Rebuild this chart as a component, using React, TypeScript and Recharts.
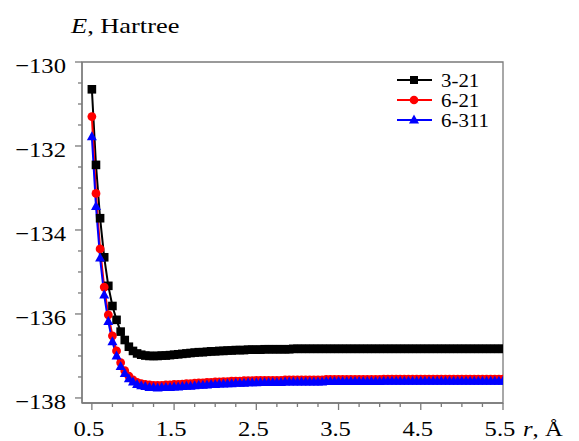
import React from 'react';
import { LineChart, Line, XAxis, YAxis, ReferenceArea, Legend, Label } from 'recharts';

const rValues = [
  0.5, 0.55, 0.6, 0.65, 0.7, 0.75, 0.8, 0.85, 0.9, 0.95,
  1.0, 1.05, 1.1, 1.15, 1.2, 1.25, 1.3, 1.35, 1.4, 1.45,
  1.5, 1.55, 1.6, 1.65, 1.7, 1.75, 1.8, 1.85, 1.9, 1.95,
  2.0, 2.05, 2.1, 2.15, 2.2, 2.25, 2.3, 2.35, 2.4, 2.45,
  2.5, 2.55, 2.6, 2.65, 2.7, 2.75, 2.8, 2.85, 2.9, 2.95,
  3.0, 3.05, 3.1, 3.15, 3.2, 3.25, 3.3, 3.35, 3.4, 3.45,
  3.5, 3.55, 3.6, 3.65, 3.7, 3.75, 3.8, 3.85, 3.9, 3.95,
  4.0, 4.05, 4.1, 4.15, 4.2, 4.25, 4.3, 4.35, 4.4, 4.45,
  4.5, 4.55, 4.6, 4.65, 4.7, 4.75, 4.8, 4.85, 4.9, 4.95,
  5.0, 5.05, 5.1, 5.15, 5.2, 5.25, 5.3, 5.35, 5.4, 5.45,
  5.5,
];

const basis321 = [
  -130.65, -132.45, -133.72, -134.65, -135.33, -135.81, -136.14, -136.42, -136.62, -136.78,
  -136.88, -136.94, -136.97, -136.99, -137.0, -137.0, -137.0, -136.99, -136.99, -136.98,
  -136.97, -136.96, -136.95, -136.94, -136.93, -136.92, -136.91, -136.91, -136.9, -136.89,
  -136.89, -136.88, -136.88, -136.87, -136.87, -136.86, -136.86, -136.86, -136.85, -136.85,
  -136.85, -136.85, -136.84, -136.84, -136.84, -136.84, -136.84, -136.84, -136.84, -136.83,
  -136.83, -136.83, -136.83, -136.83, -136.83, -136.83, -136.83, -136.83, -136.83, -136.83,
  -136.83, -136.83, -136.83, -136.83, -136.83, -136.83, -136.83, -136.83, -136.83, -136.83,
  -136.83, -136.83, -136.83, -136.83, -136.83, -136.83, -136.83, -136.83, -136.83, -136.83,
  -136.83, -136.83, -136.83, -136.83, -136.83, -136.83, -136.83, -136.83, -136.83, -136.83,
  -136.83, -136.83, -136.83, -136.83, -136.83, -136.83, -136.83, -136.83, -136.83, -136.83,
  -136.83,
];

const basis621 = [
  -131.3, -133.13, -134.45, -135.36, -136.02, -136.52, -136.88, -137.16, -137.35, -137.48,
  -137.57, -137.63, -137.66, -137.68, -137.69, -137.7, -137.7, -137.7, -137.69, -137.69,
  -137.68, -137.68, -137.67, -137.66, -137.66, -137.65, -137.64, -137.64, -137.63, -137.63,
  -137.62, -137.62, -137.61, -137.61, -137.6, -137.6, -137.6, -137.59, -137.59, -137.59,
  -137.58, -137.58, -137.58, -137.58, -137.58, -137.58, -137.58, -137.57, -137.57, -137.57,
  -137.57, -137.57, -137.57, -137.57, -137.57, -137.57, -137.57, -137.56, -137.56, -137.56,
  -137.56, -137.56, -137.56, -137.56, -137.56, -137.56, -137.56, -137.56, -137.56, -137.56,
  -137.56, -137.55, -137.55, -137.55, -137.55, -137.55, -137.55, -137.55, -137.55, -137.55,
  -137.55, -137.55, -137.55, -137.55, -137.55, -137.55, -137.55, -137.55, -137.55, -137.55,
  -137.55, -137.55, -137.55, -137.55, -137.55, -137.55, -137.55, -137.55, -137.55, -137.55,
  -137.55,
];

const basis6311 = [
  -131.78, -133.44, -134.67, -135.55, -136.18, -136.66, -137.0, -137.25, -137.42, -137.54,
  -137.62, -137.68, -137.71, -137.73, -137.75, -137.75, -137.76, -137.75, -137.75, -137.75,
  -137.74, -137.74, -137.73, -137.72, -137.72, -137.71, -137.7, -137.7, -137.69, -137.68,
  -137.68, -137.67, -137.67, -137.66, -137.66, -137.65, -137.65, -137.65, -137.64, -137.64,
  -137.64, -137.63, -137.63, -137.63, -137.63, -137.63, -137.63, -137.62, -137.62, -137.62,
  -137.62, -137.62, -137.62, -137.62, -137.62, -137.62, -137.62, -137.61, -137.61, -137.61,
  -137.61, -137.61, -137.61, -137.61, -137.61, -137.61, -137.61, -137.61, -137.61, -137.61,
  -137.61, -137.6, -137.6, -137.6, -137.6, -137.6, -137.6, -137.6, -137.6, -137.6,
  -137.6, -137.6, -137.6, -137.6, -137.6, -137.6, -137.6, -137.6, -137.6, -137.6,
  -137.6, -137.6, -137.6, -137.6, -137.6, -137.6, -137.6, -137.6, -137.6, -137.6,
  -137.6,
];

const seriesNames = ['3-21', '6-21', '6-311'];
const xTicks = [0.5, 0.75, 1, 1.25, 1.5, 1.75, 2, 2.25, 2.5, 2.75, 3, 3.25, 3.5, 3.75, 4, 4.25, 4.5, 4.75, 5, 5.25, 5.5];
const xMajorTicks = [0.5, 1.5, 2.5, 3.5, 4.5, 5.5];
const yTicks = [-138, -137.5, -137, -136.5, -136, -135.5, -135, -134.5, -134, -133.5, -133, -132.5, -132, -131.5, -131, -130.5, -130];
const yMajorTicks = [-138, -136, -134, -132, -130];

const data = rValues.map((r, i) => ({
  r,
  a: basis321[i],
  b: basis621[i],
  c: basis6311[i],
}));

const FONT = '"Liberation Serif", "Times New Roman", serif';
const AXIS_COLOR = '#7a7a7a';
const SX = 1.12;

const isMajor = (list: number[], v: number) => list.some((t) => Math.abs(t - v) < 1e-6);

const XTick = (props: any) => {
  const { x, y, payload } = props;
  const v = payload.value;
  const major = isMajor(xMajorTicks, v);
  return (
    <g>
      <line x1={x} x2={x} y1={y} y2={y + (major ? 7 : 4)} stroke={AXIS_COLOR} strokeWidth={1.3} />
      {major && (
        <text
          transform={`translate(${x - 3} ${y + 33}) scale(${SX} 1)`}
          textAnchor="middle"
          fontFamily={FONT}
          fontSize={22}
          fill="#000"
        >
          {String(v.toFixed(1))}
        </text>
      )}
    </g>
  );
};

const YTick = (props: any) => {
  const { x, y, payload } = props;
  const v = payload.value;
  const major = isMajor(yMajorTicks, v);
  return (
    <g>
      <line x1={x} x2={x - (major ? 7 : 4)} y1={y} y2={y} stroke={AXIS_COLOR} strokeWidth={1.3} />
      {major && (
        <text
          transform={`translate(${x - 16} ${y + 11}) scale(${SX} 1)`}
          textAnchor="end"
          fontFamily={FONT}
          fontSize={22}
          fill="#000"
        >
          {'\u2212' + Math.abs(v)}
        </text>
      )}
    </g>
  );
};

const SquareDot = (props: any) => {
  const { cx, cy, index } = props;
  if (cx == null || cy == null) return <g key={`s-${index}`} />;
  return <rect key={`s-${index}`} x={cx - 4.3} y={cy - 4.3} width={8.6} height={8.6} fill="#000" />;
};

const CircleDot = (props: any) => {
  const { cx, cy, index } = props;
  if (cx == null || cy == null) return <g key={`c-${index}`} />;
  return <circle key={`c-${index}`} cx={cx} cy={cy} r={4.4} fill="#ff0000" />;
};

const TriDot = (props: any) => {
  const { cx, cy, index } = props;
  if (cx == null || cy == null) return <g key={`t-${index}`} />;
  return (
    <polygon
      key={`t-${index}`}
      points={`${cx - 5},${cy + 3.5} ${cx + 5},${cy + 3.5} ${cx},${cy - 5.5}`}
      fill="#0000ff"
    />
  );
};

const LegendContent = () => {
  const rows = [
    { name: seriesNames[0], color: '#000', shape: 'square' },
    { name: seriesNames[1], color: '#ff0000', shape: 'circle' },
    { name: seriesNames[2], color: '#0000ff', shape: 'triangle' },
  ];
  return (
    <svg width={110} height={62} style={{ display: 'block', overflow: 'visible' }}>
      {rows.map((row, i) => {
        const cy = 10 + i * 20;
        const cx = 19;
        let marker: React.ReactNode = null;
        if (row.shape === 'square') marker = <rect x={cx - 4} y={cy - 4} width={8} height={8} fill={row.color} />;
        else if (row.shape === 'circle') marker = <circle cx={cx} cy={cy} r={4.3} fill={row.color} />;
        else
          marker = (
            <polygon
              points={`${cx - 5},${cy + 3.5} ${cx + 5},${cy + 3.5} ${cx},${cy - 5.5}`}
              fill={row.color}
            />
          );
        return (
          <g key={row.name}>
            <line x1={2} x2={37} y1={cy} y2={cy} stroke={row.color} strokeWidth={2.2} />
            {marker}
            <text
              transform={`translate(46 ${cy + 6.5}) scale(1.1 1)`}
              fontFamily={FONT}
              fontSize={19}
              fill="#000"
            >
              {row.name}
            </text>
          </g>
        );
      })}
    </svg>
  );
};

export default function App() {
  return (
    <div style={{ position: 'absolute', left: 0, top: 0, width: 579, height: 441, background: '#fff' }}>
      <LineChart
        width={579}
        height={441}
        data={data}
        margin={{ top: 62, right: 76, bottom: 8, left: 32 }}
      >
        <ReferenceArea
          x1={0.38}
          x2={5.5}
          y1={-138.12}
          y2={-130}
          fill="none"
          fillOpacity={0}
          stroke={AXIS_COLOR}
          strokeWidth={1.3}
          ifOverflow="visible"
        />
        <XAxis
          dataKey="r"
          type="number"
          domain={[0.38, 5.5]}
          allowDataOverflow
          ticks={xTicks}
          interval={0}
          height={30}
          tickSize={0}
          tickMargin={0}
          tickLine={false}
          tick={<XTick />}
          axisLine={{ stroke: AXIS_COLOR, strokeWidth: 1.3 }}
        >
          <Label
            content={() => (
              <text
                transform={`translate(523 436) scale(${SX} 1)`}
                fontFamily={FONT}
                fontSize={22}
                fill="#000"
              >
                <tspan fontStyle="italic">r</tspan>, Å
              </text>
            )}
          />
        </XAxis>
        <YAxis
          type="number"
          domain={[-138.12, -130]}
          allowDataOverflow
          ticks={yTicks}
          interval={0}
          width={50}
          tickSize={0}
          tickMargin={0}
          tickLine={false}
          tick={<YTick />}
          axisLine={{ stroke: AXIS_COLOR, strokeWidth: 1.3 }}
        >
          <Label
            content={() => (
              <text
                transform={`translate(71 33) scale(1.2 1)`}
                fontFamily={FONT}
                fontSize={22}
                fill="#000"
              >
                <tspan fontStyle="italic">E</tspan>, Hartree
              </text>
            )}
          />
        </YAxis>
        <Legend
          layout="vertical"
          align="center"
          verticalAlign="middle"
          content={<LegendContent />}
          wrapperStyle={{ left: 395, top: 70, width: 110, height: 62 }}
        />
        <Line
          dataKey="a"
          name={seriesNames[0]}
          stroke="#000"
          strokeWidth={2}
          dot={SquareDot}
          activeDot={false}
          isAnimationActive={false}
        />
        <Line
          dataKey="b"
          name={seriesNames[1]}
          stroke="#ff0000"
          strokeWidth={2}
          dot={CircleDot}
          activeDot={false}
          isAnimationActive={false}
        />
        <Line
          dataKey="c"
          name={seriesNames[2]}
          stroke="#0000ff"
          strokeWidth={2}
          dot={TriDot}
          activeDot={false}
          isAnimationActive={false}
        />
      </LineChart>
    </div>
  );
}
